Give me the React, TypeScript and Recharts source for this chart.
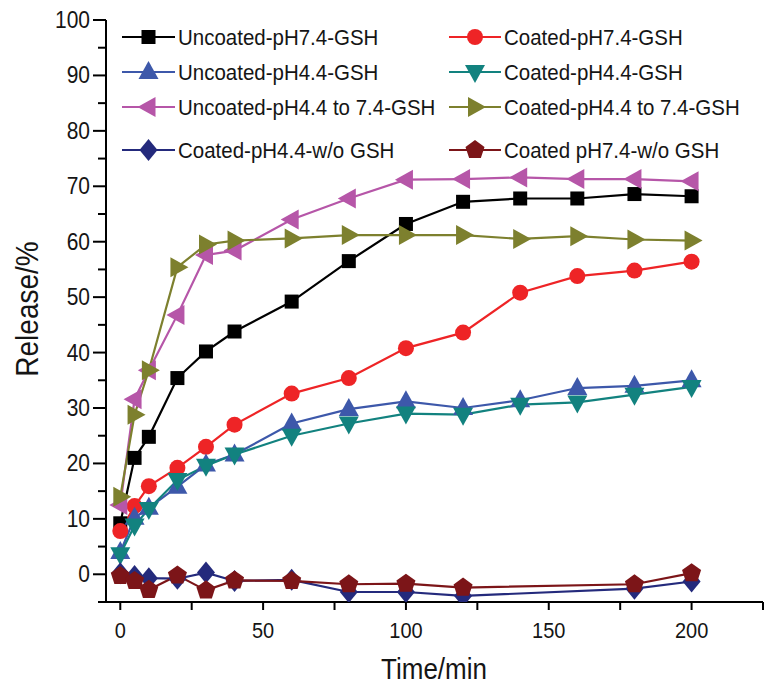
import { LineChart, Line, XAxis, YAxis } from "recharts"

const times = [0, 5, 10, 20, 30, 40, 60, 80, 100, 120, 140, 160, 180, 200]
const uncoated74 = [9.2, 21, 24.8, 35.4, 40.2, 43.8, 49.2, 56.5, 63.2, 67.2, 67.8, 67.8, 68.6, 68.2]
const coated74 = [7.8, 12.3, 15.9, 19.2, 23, 27, 32.6, 35.4, 40.8, 43.6, 50.8, 53.8, 54.8, 56.4]
const uncoated44 = [4, 10.2, 12, 15.8, 19.8, 21.6, 27.2, 29.8, 31.2, 30, 31.4, 33.6, 34, 35]
const coated44 = [3.6, 8.8, 11.8, 17, 19.6, 21.6, 25, 27.2, 29, 28.8, 30.6, 31, 32.4, 33.8]
const uncoatedSwitch = [12.5, 31.6, 36.8, 46.8, 57.6, 58.4, 64, 67.8, 71.2, 71.3, 71.6, 71.3, 71.3, 70.9]
const coatedSwitch = [14, 28.8, 36.8, 55.4, 59.5, 60.2, 60.6, 61.2, 61.2, 61.2, 60.5, 61, 60.4, 60.2]
const coated44NoGsh = [0.2, -0.3, -0.7, -0.8, 0.3, -1.2, -1, -3.2, -3.2, -3.9, null, null, -2.6, -1.3]
const coated74NoGsh = [-0.3, -1.2, -2.8, -0.2, -2.9, -1.1, -1.2, -1.8, -1.7, -2.4, null, null, -1.8, 0.2]

const xTicks = [0, 25, 50, 75, 100, 125, 150, 175, 200, 225]
const yTicks = [-5, 0, 5, 10, 15, 20, 25, 30, 35, 40, 45, 50, 55, 60, 65, 70, 75, 80, 85, 90, 95, 100]

const series = [
  { key: "u74", name: "Uncoated-pH7.4-GSH", values: uncoated74, color: "#000000", shape: "square" },
  { key: "c74", name: "Coated-pH7.4-GSH", values: coated74, color: "#ee2426", shape: "circle" },
  { key: "u44", name: "Uncoated-pH4.4-GSH", values: uncoated44, color: "#3d58aa", shape: "up" },
  { key: "c44", name: "Coated-pH4.4-GSH", values: coated44, color: "#12827f", shape: "down" },
  { key: "usw", name: "Uncoated-pH4.4 to 7.4-GSH", values: uncoatedSwitch, color: "#b656a8", shape: "left" },
  { key: "csw", name: "Coated-pH4.4 to 7.4-GSH", values: coatedSwitch, color: "#7d802e", shape: "right" },
  { key: "c44n", name: "Coated-pH4.4-w/o GSH", values: coated44NoGsh, color: "#242a7c", shape: "diamond" },
  { key: "c74n", name: "Coated pH7.4-w/o GSH", values: coated74NoGsh, color: "#7c1518", shape: "pentagon" },
]

const rows = times.map((t, i) => {
  const row: Record<string, number | null> = { t }
  series.forEach((s) => (row[s.key] = s.values[i]))
  return row
})

const font = "'Liberation Sans', Arial, Helvetica, sans-serif"

function pts(list: number[][]) {
  return list.map((p) => p.join(",")).join(" ")
}

function Marker({ shape, cx, cy, color }: { shape: string; cx: number; cy: number; color: string }) {
  switch (shape) {
    case "square":
      return <rect x={cx - 7} y={cy - 7} width={14} height={14} fill={color} />
    case "circle":
      return <circle cx={cx} cy={cy} r={8} fill={color} />
    case "up":
      return <polygon points={pts([[cx, cy - 11], [cx + 10, cy + 7], [cx - 10, cy + 7]])} fill={color} />
    case "down":
      return <polygon points={pts([[cx, cy + 11], [cx + 10, cy - 7], [cx - 10, cy - 7]])} fill={color} />
    case "left":
      return <polygon points={pts([[cx - 11, cy], [cx + 7, cy - 10], [cx + 7, cy + 10]])} fill={color} />
    case "right":
      return <polygon points={pts([[cx + 11, cy], [cx - 7, cy - 10], [cx - 7, cy + 10]])} fill={color} />
    case "diamond":
      return <polygon points={pts([[cx, cy - 11], [cx + 9, cy], [cx, cy + 11], [cx - 9, cy]])} fill={color} />
    default: {
      const p = [0, 1, 2, 3, 4].map((k) => {
        const a = ((-90 + 72 * k) * Math.PI) / 180
        return [cx + 10 * Math.cos(a), cy + 10 * Math.sin(a)]
      })
      return <polygon points={pts(p)} fill={color} />
    }
  }
}

// text drawn a little taller than wide, like the original figure
function Tall({ x, y, size, anchor, children }: any) {
  return (
    <text
      transform={`translate(${x},${y}) scale(1,1.12)`}
      textAnchor={anchor}
      fontSize={size}
      fill="#151515"
      fontFamily={font}
    >
      {children}
    </text>
  )
}

function XTick({ x, y, payload }: any) {
  const v = payload.value
  const major = v % 50 === 0
  return (
    <g>
      <line x1={x} x2={x} y1={y} y2={y + 8} stroke="#000" strokeWidth={2} />
      {major && (
        <Tall x={x} y={y + 36} size={20} anchor="middle">
          {v}
        </Tall>
      )}
    </g>
  )
}

function YTick({ x, y, payload }: any) {
  const v = payload.value
  const major = v % 10 === 0
  return (
    <g>
      <line x1={x - (major ? 13 : 8)} x2={x} y1={y} y2={y} stroke="#000" strokeWidth={2} />
      {major && (
        <Tall x={x - 16} y={y + 8} size={21} anchor="end">
          {v}
        </Tall>
      )}
    </g>
  )
}

// legend layout: two columns, four rows
const legendCols = [
  { x1: 122, x2: 175, tx: 178 },
  { x1: 449, x2: 501, tx: 504 },
]
const legendRows = [37, 72, 107, 150]

export default function App() {
  return (
    <div style={{ position: "absolute", left: 0, top: 0, width: 765, height: 686, background: "#fff" }}>
      <LineChart width={765} height={686} data={rows} margin={{ top: 20, right: 2, bottom: 0, left: 0 }}>
        <XAxis
          dataKey="t"
          type="number"
          domain={[-5, 225]}
          ticks={xTicks}
          interval={0}
          height={84}
          tickSize={0}
          tickMargin={0}
          tickLine={false}
          axisLine={{ stroke: "#000", strokeWidth: 2 }}
          tick={(p: any) => <XTick {...p} />}
          allowDataOverflow
        />
        <YAxis
          type="number"
          domain={[-5, 100]}
          ticks={yTicks}
          interval={0}
          width={106}
          tickSize={0}
          tickMargin={0}
          tickLine={false}
          axisLine={{ stroke: "#000", strokeWidth: 2 }}
          tick={(p: any) => <YTick {...p} />}
          allowDataOverflow
        />
        {series.map((s) => (
          <Line
            key={s.key}
            dataKey={s.key}
            name={s.name}
            stroke={s.color}
            strokeWidth={2.2}
            connectNulls
            isAnimationActive={false}
            dot={(p: any) =>
              p.cx == null || p.cy == null || p.value == null ? (
                <g key={`${s.key}-${p.index}`} />
              ) : (
                <Marker key={`${s.key}-${p.index}`} shape={s.shape} cx={p.cx} cy={p.cy} color={s.color} />
              )
            }
            activeDot={false}
          />
        ))}
      </LineChart>

      {/* axis titles and legend */}
      <svg width={765} height={686} style={{ position: "absolute", left: 0, top: 0, pointerEvents: "none" }}>
        <Tall x={434} y={679} size={26} anchor="middle">
          Time/min
        </Tall>
        <text
          transform="translate(38, 309) rotate(-90) scale(1,1.1)"
          textAnchor="middle"
          fontSize={28}
          fill="#151515"
          fontFamily={font}
        >
          Release/%
        </text>
        {series.map((s, i) => {
          const c = legendCols[i % 2]
          const y = legendRows[Math.floor(i / 2)]
          return (
            <g key={s.key}>
              <line x1={c.x1} x2={c.x2} y1={y} y2={y} stroke={s.color} strokeWidth={2.2} />
              <Marker shape={s.shape} cx={(c.x1 + c.x2) / 2} cy={y} color={s.color} />
              <Tall x={c.tx} y={y + 8} size={20.5} anchor="start">
                {s.name}
              </Tall>
            </g>
          )
        })}
      </svg>
    </div>
  )
}
